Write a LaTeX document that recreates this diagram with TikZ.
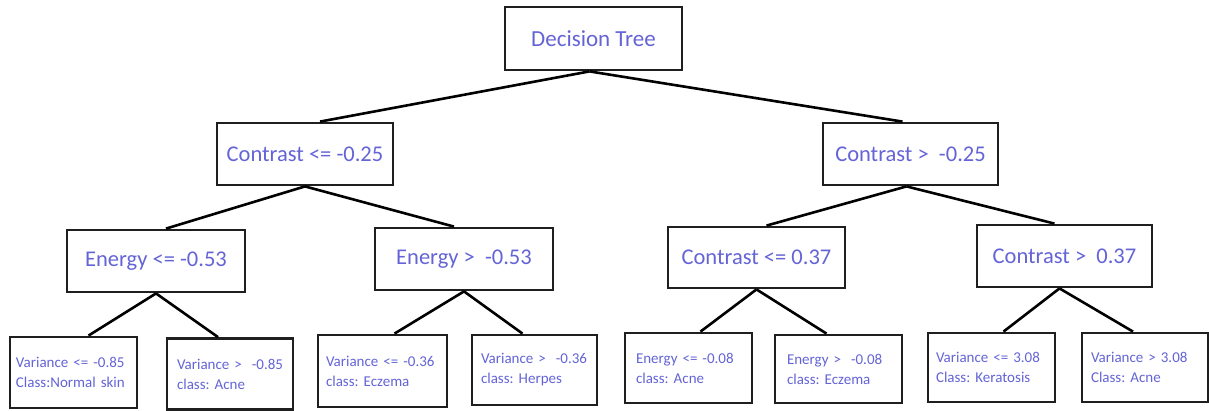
\documentclass[tikz,border=0pt]{standalone}
\usepackage{fontspec}
\setmainfont{Carlito}
\frenchspacing
\begin{document}
\begin{tikzpicture}[x=1pt,y=-1pt,
  txt/.style={text=txtblue},
  box/.style={draw=black!88, line width=2.8pt, fill=white, inner sep=0pt, txt,
    font=\fontsize{22.5}{27}\selectfont},
  leaf/.style={draw=black!88, line width=2.8pt, fill=white, inner xsep=6pt, inner ysep=0pt, txt,
    align=left, font=\fontsize{15}{20}\selectfont},
  edge/.style={draw=black, line width=2.6pt}]
\definecolor{txtblue}{RGB}{100,100,215}
\useasboundingbox (0,0) rectangle (1209,410);
\coordinate (r) at (593.5,38.5);
\coordinate (a) at (305,154);
\coordinate (b) at (910.5,154);
\coordinate (aa) at (156,261);
\coordinate (ab) at (464,259);
\coordinate (ba) at (756.5,257.5);
\coordinate (bb) at (1064.5,256);
% nodes
\node[box, minimum width=177pt, minimum height=63pt, font=\fontsize{23}{27}\selectfont] (root) at (r) {Decision Tree};
\node[box, minimum width=176pt, minimum height=62pt] (n1) at (a) {Contrast <= -0.25};
\node[box, minimum width=175pt, minimum height=62pt] (n2) at (b) {Contrast >\ \ -0.25};
\node[box, minimum width=178pt, minimum height=62pt] (n11) at (aa) {Energy <= -0.53};
\node[box, minimum width=178pt, minimum height=62pt] (n12) at (ab) {Energy >\ \ -0.53};
\node[box, minimum width=177pt, minimum height=61pt] (n21) at (ba) {Contrast <= 0.37};
\node[box, minimum width=175pt, minimum height=62pt] (n22) at (bb) {Contrast > \ 0.37};
\node[leaf, text width=115pt, minimum height=71pt] (l1) at (73.5,372.5) {Variance <= -0.85\\Class:Normal skin};
\node[leaf, text width=114pt, minimum height=71pt] (l2) at (230,374) {\hspace*{4pt}Variance >\ \ -0.85\\\hspace*{4pt}class: Acne};
\node[leaf, text width=117pt, minimum height=72pt] (l3) at (382.5,371) {\hspace*{2pt}Variance <= -0.36\\\hspace*{2pt}class: Eczema};
\node[leaf, text width=113pt, minimum height=70pt] (l4) at (534.5,370) {\hspace*{3pt}Variance > \ -0.36\\\hspace*{3pt}class: Herpes};
\node[leaf, text width=115pt, minimum height=70pt] (l5) at (688.5,368) {\hspace*{5pt}Energy <= -0.08\\\hspace*{5pt}class: Acne};
\node[leaf, text width=115pt, minimum height=68pt] (l6) at (838.5,369) {\hspace*{6pt}Energy >\ \ -0.08\\\hspace*{6pt}class: Eczema};
\node[leaf, text width=115pt, minimum height=69pt] (l7) at (991.5,367.5) {\hspace*{2pt}Variance <= 3.08\\\hspace*{2pt}Class: Keratosis};
\node[leaf, text width=114pt, minimum height=69pt] (l8) at (1145,367.5) {\hspace*{3pt}Variance > 3.08\\\hspace*{3pt}Class: Acne};
% connectors
\path[edge] ([xshift=-4pt]root.south) -- ([xshift=15pt]n1.north);
\path[edge] ([xshift=-4pt]root.south) -- ([xshift=-8pt]n2.north);
\path[edge] (n1.south) -- ([xshift=10pt]n11.north);
\path[edge] (n1.south) -- ([xshift=-10pt]n12.north);
\path[edge] ([xshift=-4pt]n2.south) -- ([xshift=10pt]n21.north);
\path[edge] ([xshift=-4pt]n2.south) -- ([xshift=-10pt]n22.north);
\path[edge] (n11.south) -- ([xshift=15pt]l1.north);
\path[edge] (n11.south) -- ([xshift=-12pt]l2.north);
\path[edge] (n12.south) -- ([xshift=12pt]l3.north);
\path[edge] (n12.south) -- ([xshift=-12pt]l4.north);
\path[edge] (n21.south) -- ([xshift=12pt]l5.north);
\path[edge] (n21.south) -- ([xshift=-12pt]l6.north);
\path[edge] ([xshift=-5pt]n22.south) -- ([xshift=12pt]l7.north);
\path[edge] ([xshift=-5pt]n22.south) -- ([xshift=-12pt]l8.north);
\end{tikzpicture}
\end{document}
